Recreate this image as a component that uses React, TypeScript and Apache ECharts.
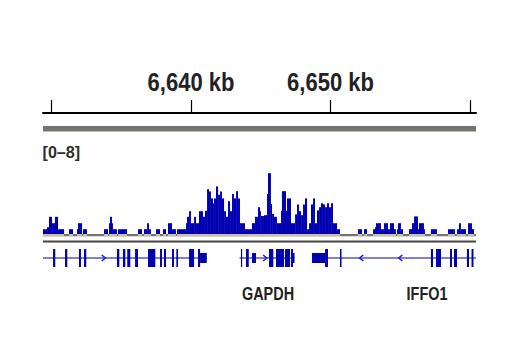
import React, { useEffect, useRef } from "react";
import * as echarts from "echarts";

// genomic window shown (kb)
const viewRange = [6629.39, 6660.43];
const rulerTicks = [6630, 6640, 6650, 6660];
const rulerLabels = [6640, 6650];
const dataRange = [0, 8];

// coverage runs: [start kb, end kb, signal]
const coverage: [number, number, number][] = [
  [6629.39, 6629.68, 0.6], [6629.68, 6629.82, 0.85], [6629.82, 6630.04, 2.15], [6630.04, 6630.25, 1.35],
  [6630.25, 6630.47, 2.15], [6630.47, 6630.9, 0.6], [6631.25, 6631.54, 0.6], [6631.83, 6631.9, 0.6],
  [6631.9, 6632.19, 1.35], [6632.26, 6632.54, 0.6], [6633.76, 6634.05, 0.6], [6634.12, 6634.19, 1.35],
  [6634.19, 6634.34, 2.15], [6634.34, 6634.41, 1.35], [6634.41, 6634.69, 0.6], [6634.77, 6635.41, 0.6],
  [6636.2, 6636.49, 0.6], [6636.63, 6636.85, 0.6], [6636.85, 6636.99, 1.35], [6636.99, 6637.13, 0.6],
  [6637.49, 6637.78, 0.6], [6637.99, 6638.21, 0.6], [6638.35, 6638.64, 1.35], [6638.64, 6638.92, 0.6],
  [6639.0, 6639.64, 0.6], [6639.64, 6639.71, 1.35], [6639.71, 6639.86, 2.15], [6639.86, 6640.0, 2.85],
  [6640.0, 6640.22, 1.35], [6640.22, 6640.36, 2.15], [6640.36, 6640.57, 1.35], [6640.57, 6640.86, 2.85],
  [6640.86, 6641.0, 2.15], [6641.0, 6641.15, 2.9], [6641.15, 6641.29, 5.6], [6641.29, 6641.43, 5.3],
  [6641.43, 6641.58, 4.45], [6641.58, 6641.65, 3.85], [6641.65, 6641.79, 4.45], [6641.79, 6641.94, 5.95],
  [6641.94, 6642.08, 4.9], [6642.08, 6642.22, 5.3], [6642.22, 6642.37, 4.45], [6642.37, 6642.51, 2.85],
  [6642.51, 6642.65, 2.15], [6642.65, 6642.8, 4.1], [6642.8, 6642.94, 2.85], [6642.94, 6643.08, 5.0],
  [6643.08, 6643.23, 4.45], [6643.23, 6643.37, 5.35], [6643.37, 6643.51, 4.45], [6643.51, 6643.87, 1.35],
  [6643.87, 6644.37, 0.6], [6644.37, 6644.59, 1.35], [6644.59, 6644.8, 2.15], [6644.8, 6644.95, 3.35],
  [6644.95, 6645.02, 2.85], [6645.02, 6645.23, 2.25], [6645.23, 6645.45, 2.35], [6645.45, 6645.52, 5.0],
  [6645.52, 6645.73, 7.6], [6645.73, 6645.81, 3.75], [6645.81, 6645.95, 2.5], [6645.95, 6646.16, 2.15],
  [6646.16, 6646.45, 1.35], [6646.45, 6646.52, 2.9], [6646.52, 6646.81, 5.35], [6646.81, 6646.88, 2.9],
  [6646.88, 6647.17, 4.45], [6647.17, 6647.46, 1.35], [6647.46, 6647.6, 2.45], [6647.6, 6647.74, 3.7],
  [6647.74, 6647.89, 2.85], [6647.89, 6648.03, 2.35], [6648.03, 6648.17, 3.7], [6648.17, 6648.32, 4.45],
  [6648.32, 6648.46, 0.6], [6648.46, 6648.6, 1.35], [6648.6, 6648.75, 3.7], [6648.75, 6648.89, 4.45],
  [6648.89, 6649.03, 1.35], [6649.03, 6649.18, 2.95], [6649.18, 6649.32, 3.35], [6649.32, 6649.46, 3.85],
  [6649.46, 6649.61, 3.7], [6649.61, 6649.75, 3.35], [6649.75, 6649.89, 3.85], [6649.89, 6650.04, 3.35],
  [6650.04, 6650.18, 3.85], [6650.18, 6650.47, 1.35], [6650.47, 6650.68, 0.6], [6651.97, 6652.26, 0.6],
  [6652.4, 6652.62, 0.6], [6653.05, 6653.19, 0.6], [6653.19, 6653.26, 0.85], [6653.26, 6653.62, 1.35],
  [6653.62, 6653.83, 0.6], [6653.83, 6654.12, 1.35], [6654.12, 6654.26, 0.6], [6654.26, 6654.55, 1.35],
  [6654.55, 6654.69, 0.6], [6654.77, 6654.84, 0.6], [6654.84, 6655.05, 1.35], [6655.05, 6655.2, 0.6],
  [6655.63, 6655.84, 0.6], [6655.84, 6655.99, 1.35], [6655.99, 6656.27, 2.2], [6656.27, 6656.34, 0.6],
  [6656.34, 6656.7, 1.35], [6656.7, 6656.77, 0.6], [6657.2, 6657.63, 0.6], [6658.42, 6658.92, 0.6],
  [6659.07, 6659.21, 0.6], [6659.21, 6659.35, 1.35], [6659.35, 6659.71, 0.6], [6659.86, 6660.14, 1.35],
  [6660.14, 6660.29, 0.6],
];

// gene bodies (kb)
const geneSpans: [number, number][] = [
  [6629.39, 6641.13],
  [6643.48, 6647.42],
  [6648.67, 6660.43],
];

// exons: [start kb, end kb, coding (1) or UTR (0)]
const exons: [number, number, number][] = [
  [6630.11, 6630.27, 1], [6630.97, 6631.13, 1], [6631.97, 6632.11, 1], [6632.33, 6632.49, 1],
  [6634.69, 6634.86, 1], [6635.12, 6635.29, 1], [6635.43, 6635.65, 1], [6635.99, 6636.2, 1],
  [6636.92, 6637.44, 1], [6637.78, 6637.92, 1], [6638.06, 6638.21, 1], [6638.64, 6638.78, 1],
  [6638.95, 6639.07, 1], [6639.86, 6640.22, 1], [6640.5, 6640.65, 1], [6640.65, 6641.13, 0],
  [6643.58, 6643.66, 1], [6643.94, 6644.14, 1], [6644.37, 6644.66, 0], [6645.59, 6645.9, 1],
  [6646.09, 6646.67, 1], [6646.74, 6647.1, 1], [6647.17, 6647.31, 1], [6647.31, 6647.42, 0],
  [6648.67, 6649.61, 0], [6649.61, 6649.82, 1], [6650.68, 6650.79, 1], [6657.2, 6657.35, 1],
  [6657.56, 6657.92, 1], [6658.57, 6658.71, 1], [6658.85, 6659.07, 1], [6659.78, 6659.93, 1],
  [6660.11, 6660.25, 1],
];

// strand arrows: [position kb, direction]
const strandArrows: [number, number][] = [
  [6633.73, 1], [6645.3, 1], [6652.22, -1], [6655.02, -1],
];

const geneNames = ["GAPDH", "IFFO1"];
const geneLabelPos = [6645.52, 6656.92];

const BLUE = "#0000b2";
const FONT = '"Liberation Sans", Arial, Helvetica, sans-serif';

function fmtKb(v: number) {
  const th = Math.floor(v / 1000);
  const rest = String(Math.round(v % 1000)).padStart(3, "0");
  return `${th},${rest} kb`;
}

export default function App() {
  const ref = useRef<HTMLDivElement>(null);
  useEffect(() => {
    if (!ref.current) return;
    const chart = echarts.init(ref.current, undefined, { renderer: "svg" });
    const L = 43;
    const W = 433;
    const grids = [
      { left: L, width: W, top: 60, height: 53 },
      { left: L, width: W, top: 170, height: 64 },
      { left: L, width: W, top: 249, height: 18 },
    ];
    const xAxes = grids.map((_, i) => ({
      type: "value",
      gridIndex: i,
      min: viewRange[0],
      max: viewRange[1],
      show: i === 0,
      axisLine: { show: i === 0, onZero: false, lineStyle: { color: "#000", width: 2 } },
      axisTick: {
        show: i === 0,
        inside: true,
        length: 13,
        customValues: rulerTicks,
        lineStyle: { color: "#000", width: 1.2 },
      },
      axisLabel: { show: false },
      splitLine: { show: false },
    }));
    const yAxes = [
      { type: "value", gridIndex: 0, min: 0, max: 1, show: false },
      { type: "value", gridIndex: 1, min: dataRange[0], max: dataRange[1], show: false },
      { type: "value", gridIndex: 2, min: 0, max: 1, show: false },
    ];

    const option: any = {
      animation: false,
      backgroundColor: "#fff",
      grid: grids,
      xAxis: xAxes,
      yAxis: yAxes,
      graphic: [
        { type: "rect", x: L, y: 126, z: 0, shape: { x: 0, y: 0, width: W, height: 5.5 }, style: { fill: "#74746e" } },
        {
          type: "text",
          x: 42.5,
          y: 152,
          scaleX: 0.95,
          style: {
            text: `[${dataRange[0]}\u2013${dataRange[1]}]`,
            fill: "#2e2e2e",
            font: `bold 17px ${FONT}`,
            align: "left",
            verticalAlign: "middle",
          },
        },
        { type: "rect", x: L, y: 234, z: 0, shape: { x: 0, y: 0, width: W, height: 2.3 }, style: { fill: "#747474" } },
        { type: "rect", x: L, y: 240.5, z: 0, shape: { x: 0, y: 0, width: W, height: 1.5 }, style: { fill: "#4a4a4a" } },
        { type: "rect", x: L, y: 242, z: 0, shape: { x: 0, y: 0, width: W, height: 1 }, style: { fill: "#9a9a9a" } },
      ],
      series: [
        {
          type: "custom",
          xAxisIndex: 0,
          yAxisIndex: 0,
          data: rulerLabels.map((v) => [v, 0]),
          encode: { x: 0, y: 1 },
          renderItem: (_p: any, api: any) => {
            const v = api.value(0);
            const pt = api.coord([v, 0]);
            return {
              type: "text",
              x: pt[0],
              y: pt[1] - 30.5,
              scaleX: 0.88,
              style: {
                text: fmtKb(v),
                fill: "#222",
                font: `bold 25px ${FONT}`,
                align: "center",
                verticalAlign: "middle",
              },
            };
          },
        },
        {
          type: "custom",
          xAxisIndex: 1,
          yAxisIndex: 1,
          data: coverage,
          encode: { x: [0, 1], y: 2 },
          renderItem: (_p: any, api: any) => {
            const s = api.coord([api.value(0), api.value(2)]);
            const e = api.coord([api.value(1), 0]);
            const w = e[0] - s[0];
            return {
              type: "group",
              children: [
                { type: "rect", shape: { x: s[0], y: s[1], width: w, height: e[1] - s[1] }, style: { fill: BLUE } },
                { type: "rect", shape: { x: s[0], y: e[1], width: w, height: 2.3 }, style: { fill: "#c9c49a" } },
              ],
            };
          },
        },
        {
          type: "custom",
          xAxisIndex: 2,
          yAxisIndex: 2,
          data: geneSpans,
          encode: { x: [0, 1] },
          renderItem: (_p: any, api: any) => {
            const a = api.coord([api.value(0), 0.5]);
            const b = api.coord([api.value(1), 0.5]);
            return {
              type: "line",
              shape: { x1: a[0], y1: a[1], x2: b[0], y2: b[1] },
              style: { stroke: BLUE, lineWidth: 1.2 },
            };
          },
        },
        {
          type: "custom",
          xAxisIndex: 2,
          yAxisIndex: 2,
          data: exons,
          encode: { x: [0, 1] },
          renderItem: (_p: any, api: any) => {
            const a = api.coord([api.value(0), 0.5]);
            const b = api.coord([api.value(1), 0.5]);
            const h = api.value(2) === 1 ? 18 : 10;
            return {
              type: "rect",
              shape: { x: a[0], y: a[1] - h / 2, width: Math.max(b[0] - a[0], 1.2), height: h },
              style: { fill: BLUE },
            };
          },
        },
        {
          type: "custom",
          xAxisIndex: 2,
          yAxisIndex: 2,
          data: strandArrows,
          encode: { x: 0 },
          renderItem: (_p: any, api: any) => {
            const c = api.coord([api.value(0), 0.5]);
            const d = api.value(1);
            return {
              type: "polyline",
              shape: {
                points: [
                  [c[0] - 1.8 * d, c[1] - 3],
                  [c[0] + 1.8 * d, c[1]],
                  [c[0] - 1.8 * d, c[1] + 3],
                ],
              },
              style: { stroke: "#1a1ae6", lineWidth: 1.5, fill: "none" },
            };
          },
        },
        {
          type: "custom",
          xAxisIndex: 2,
          yAxisIndex: 2,
          data: geneNames.map((n, i) => [geneLabelPos[i], 0, n]),
          encode: { x: 0 },
          renderItem: (p: any, api: any) => {
            const c = api.coord([api.value(0), 0]);
            return {
              type: "text",
              x: c[0],
              y: c[1] + 26.5,
              scaleX: 0.78,
              style: {
                text: geneNames[p.dataIndex],
                fill: "#222",
                font: `bold 18.5px ${FONT}`,
                align: "center",
                verticalAlign: "middle",
              },
            };
          },
        },
      ],
    };
    chart.setOption(option);
    return () => chart.dispose();
  }, []);
  return (
    <div
      ref={ref}
      style={{ position: "absolute", left: 0, top: 0, width: 520, height: 350, background: "#fff" }}
    />
  );
}
